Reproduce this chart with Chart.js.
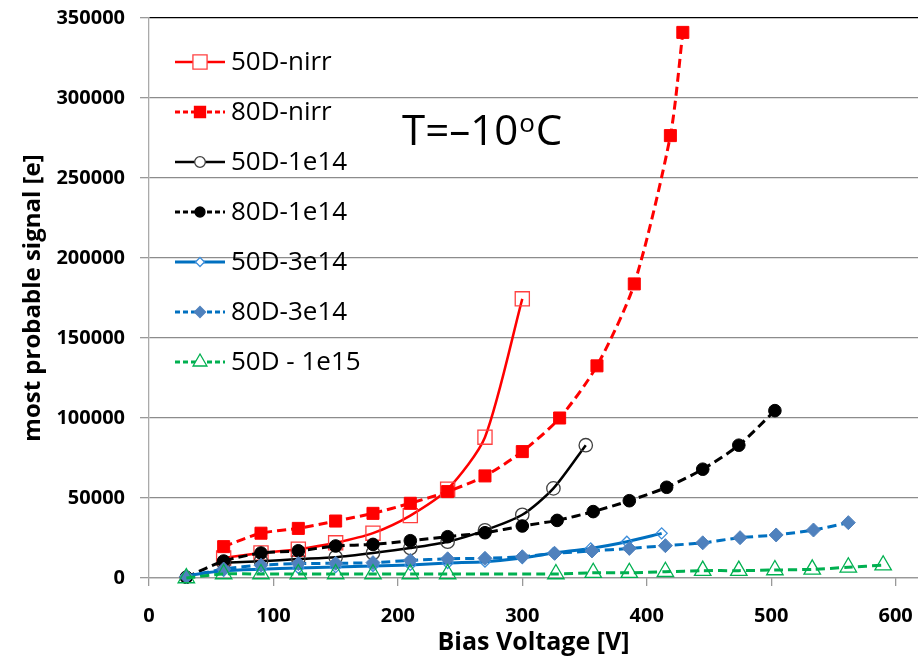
<!DOCTYPE html>
<html lang="en">
<head>
  <meta charset="UTF-8">
  <title>most probable signal vs bias voltage</title>
  <script src="https://cdn.jsdelivr.net/npm/chart.js"></script>
  <style>
    body { margin: 0; background: #fff; }
  </style>
</head>
<body>
<canvas id="grafico" width="918" height="658"></canvas>
<script>
// valores
const seriesNames = ['50D-nirr', '80D-nirr', '50D-1e14', '80D-1e14', '50D-3e14', '80D-3e14', '50D - 1e15'];

const v50nirr = [60, 90, 120, 150, 180, 210, 240, 270, 300];
const s50nirr = [12500, 15600, 18000, 22000, 28000, 39000, 55500, 88000, 174500];

const v80nirr = [60, 90, 120, 150, 180, 210, 240, 270, 300, 330, 360, 390, 419, 429];
const s80nirr = [19600, 28000, 31000, 35600, 40400, 46700, 54000, 63800, 79000, 100000, 132600, 183800, 276500, 341000];

const v50e14 = [60, 90, 120, 150, 180, 210, 240, 270, 300, 325, 351];
const s50e14 = [9500, 10500, 11800, 13000, 15600, 18700, 22700, 29800, 39500, 56000, 83000];

const v80e14 = [30, 60, 90, 120, 150, 180, 210, 240, 270, 300, 328, 357, 386, 416, 445, 474, 503];
const s80e14 = [500, 10600, 15600, 17000, 20000, 21000, 23300, 25800, 28300, 32500, 36000, 41500, 48300, 56700, 68000, 83000, 104600];

const v50e314 = [30, 60, 90, 120, 150, 180, 210, 240, 270, 300, 325, 355, 384, 412];
const s50e314 = [1500, 4500, 5500, 6200, 6800, 7500, 8200, 9400, 10200, 12500, 15600, 18500, 22700, 27900];

const v80e314 = [30, 60, 90, 120, 150, 180, 210, 240, 270, 300, 326, 356, 386, 415, 445, 475, 504, 534, 562];
const s80e314 = [800, 5600, 8000, 9000, 9200, 9600, 11000, 12000, 12300, 13300, 15400, 16900, 18500, 20200, 22000, 25200, 26900, 30000, 34600];

const v50e15 = [30, 60, 90, 120, 150, 180, 210, 240, 327, 357, 386, 415, 445, 474, 503, 533, 562, 590];
const s50e15 = [0, 2500, 2500, 2500, 2500, 2500, 2500, 2500, 2500, 3300, 3300, 3900, 4600, 4600, 5000, 5400, 6700, 8000];

const xTicks = [0, 100, 200, 300, 400, 500, 600];
const yTicks = [0, 50000, 100000, 150000, 200000, 250000, 300000, 350000];

const vazio = 'rgba(0,0,0,0)';

// estilo de cada serie
const estilos = [
  { cor: '#FF0000', dash: [], forma: 'rect', r: 10, fundo: vazio, borda: '#FF4040', lw: 2.5, lr: 10 },
  { cor: '#FF0000', dash: [9, 5], forma: 'rect', r: 8.5, fundo: '#FF0000', borda: '#FF0000', lw: 3, lr: 7.8 },
  { cor: '#000000', dash: [], forma: 'circle', r: 6.7, fundo: vazio, borda: '#404040', lw: 2.5, lr: 5.3 },
  { cor: '#000000', dash: [9, 5], forma: 'circle', r: 6.3, fundo: '#000000', borda: '#000000', lw: 3, lr: 5 },
  { cor: '#0070C0', dash: [], forma: 'rectRot', r: 5.5, fundo: vazio, borda: '#3C8DDA', lw: 3, lr: 4.5 },
  { cor: '#0070C0', dash: [9, 5], forma: 'rectRot', r: 7, fundo: '#4F81BD', borda: '#4F81BD', lw: 3, lr: 5.5 },
  { cor: '#00B050', dash: [9, 5], forma: 'triangle', r: 9.5, fundo: vazio, borda: '#00B050', lw: 3, lr: 8 }
];

const xs = [v50nirr, v80nirr, v50e14, v80e14, v50e314, v80e314, v50e15];
const ys = [s50nirr, s80nirr, s50e14, s80e14, s50e314, s80e314, s50e15];

const datasets = seriesNames.map(function (nome, i) {
  const e = estilos[i];
  return {
    label: nome,
    data: xs[i].map((v, k) => ({ x: v, y: ys[i][k] })),
    borderColor: e.cor,
    borderWidth: e.lw,
    borderDash: e.dash,
    tension: 0.25,
    fill: false,
    pointStyle: e.forma,
    pointRadius: e.r,
    pointHoverRadius: e.r,
    pointBackgroundColor: e.fundo,
    pointBorderColor: e.borda,
    pointBorderWidth: e.fundo === vazio ? 1.3 : 1,
    clip: false,
    order: -i
  };
});

function desenhaMarcador(ctx, forma, x, y, r, fundo, borda) {
  ctx.beginPath();
  if (forma === 'rect') {
    const s = r * Math.SQRT1_2;
    ctx.rect(x - s, y - s, 2 * s, 2 * s);
  } else if (forma === 'circle') {
    ctx.arc(x, y, r, 0, Math.PI * 2);
  } else if (forma === 'rectRot') {
    ctx.moveTo(x, y - r); ctx.lineTo(x + r, y); ctx.lineTo(x, y + r); ctx.lineTo(x - r, y); ctx.closePath();
  } else if (forma === 'triangle') {
    ctx.moveTo(x, y - r);
    ctx.lineTo(x + r * 0.866, y + r * 0.5);
    ctx.lineTo(x - r * 0.866, y + r * 0.5);
    ctx.closePath();
  }
  ctx.fillStyle = fundo === vazio ? '#fff' : fundo;
  ctx.fill();
  ctx.lineWidth = 1.3;
  ctx.strokeStyle = borda;
  ctx.setLineDash([]);
  ctx.stroke();
}

// legenda dentro da area do grafico + texto da temperatura
const extras = {
  id: 'extras',
  afterDraw(chart) {
    const ctx = chart.ctx;
    ctx.save();
    seriesNames.forEach(function (nome, i) {
      const e = estilos[i];
      const y = 62 + i * 50;
      ctx.beginPath();
      ctx.setLineDash(e.dash.length ? [5, 3] : []);
      ctx.strokeStyle = e.cor;
      ctx.lineWidth = e.lw;
      ctx.moveTo(175, y);
      ctx.lineTo(225, y);
      ctx.stroke();
      desenhaMarcador(ctx, e.forma, 200, y, e.lr, e.fundo, e.borda);
      ctx.fillStyle = '#000';
      ctx.font = '26px "Open Sans"';
      ctx.textBaseline = 'middle';
      ctx.textAlign = 'left';
      ctx.fillText(nome, 231, y + 1);
    });

    ctx.textBaseline = 'alphabetic';
    ctx.font = '42px "Open Sans"';
    let x = 402;
    ctx.fillText('T=\u201310', x, 145);
    x += ctx.measureText('T=\u201310').width + 1;
    ctx.font = '26px "Open Sans"';
    ctx.fillText('o', x, 132);
    x += ctx.measureText('o').width + 1;
    ctx.font = '42px "Open Sans"';
    ctx.fillText('C', x, 145);
    ctx.restore();
  }
};

new Chart(document.getElementById('grafico'), {
  type: 'line',
  data: { datasets: datasets },
  options: {
    responsive: false,
    animation: false,
    layout: { autoPadding: false, padding: { top: 18, right: 0, left: 0, bottom: 0 } },
    plugins: {
      legend: { display: false },
      tooltip: { enabled: false }
    },
    scales: {
      x: {
        type: 'linear',
        min: 0,
        max: 618,
        afterBuildTicks: function (scale) { scale.ticks = xTicks.map(v => ({ value: v })); },
        afterFit: function (scale) {
          scale.height = 80;
          scale.paddingLeft = 0;
          scale.paddingRight = 0;
        },
        grid: { drawOnChartArea: false, drawTicks: true, tickLength: 8, tickColor: '#999', lineWidth: 1.3 },
        border: { display: true, color: '#999', width: 1.3 },
        ticks: {
          color: '#000',
          padding: 18,
          maxRotation: 0,
          font: { family: '"Open Sans"', size: 20, weight: 'bold' },
          callback: v => String(v)
        },
        title: {
          display: true,
          text: 'Bias Voltage [V]',
          color: '#000',
          font: { family: '"Open Sans"', size: 25, weight: 'bold' },
          padding: { top: 0, bottom: 0 }
        }
      },
      y: {
        min: 0,
        max: 350000,
        afterBuildTicks: function (scale) { scale.ticks = yTicks.map(v => ({ value: v })); },
        afterFit: function (scale) {
          scale.width = 149;
          scale.paddingTop = 0;
          scale.paddingBottom = 0;
        },
        grid: {
          color: ctx => ctx.tick && ctx.tick.value === 350000 ? '#000' : '#8c8c8c',
          lineWidth: 1.3,
          drawTicks: true,
          tickLength: 9,
          tickColor: '#999'
        },
        border: { display: true, color: '#aaa', width: 1.3 },
        ticks: {
          color: '#000',
          padding: 15,
          font: { family: '"Open Sans"', size: 20, weight: 'bold' },
          callback: v => String(v)
        },
        title: {
          display: true,
          text: 'most probable signal [e]',
          color: '#000',
          font: { family: '"Open Sans"', size: 24, weight: 'bold' },
          padding: { top: 19, bottom: 0 }
        }
      }
    }
  },
  plugins: [extras]
});
</script>
</body>
</html>
